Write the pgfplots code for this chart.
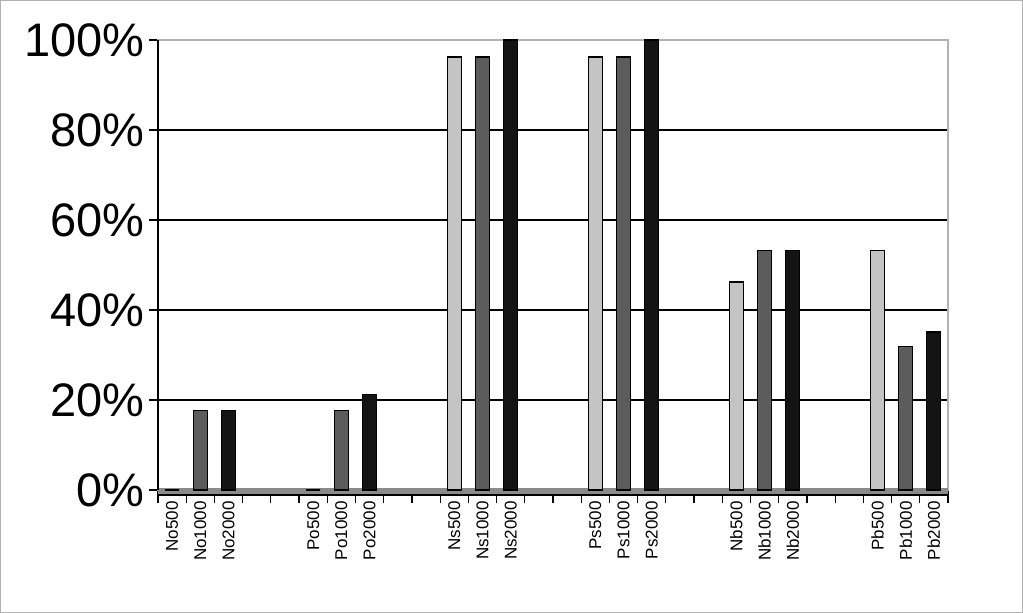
\documentclass[border=0pt]{standalone}
\usepackage{fontspec}
\setmainfont{Liberation Sans}
\usepackage{pgfplots}
\pgfplotsset{compat=1.18}
\definecolor{lightbar}{HTML}{C4C4C4}
\definecolor{midbar}{HTML}{5C5C5C}
\definecolor{darkbar}{HTML}{141414}
\definecolor{floorgray}{HTML}{8A8A8A}
\begin{document}
\begin{tikzpicture}
\path[use as bounding box] (-79pt,-61.5pt) rectangle (432.5pt,245pt);
\draw[gray!60, line width=0.6pt] (-78.7pt,-61.2pt) rectangle (432.2pt,244.7pt);
\begin{axis}[
  at={(0,0)}, anchor=south west,
  scale only axis, width=395pt, height=225pt,
  xmin=-0.5, xmax=27.5, ymin=0, ymax=100,
  ybar, bar width=7pt, bar shift=0pt,
  xtick pos=bottom, ytick pos=left,
  xtick={0,1,2,5,6,7,10,11,12,15,16,17,20,21,22,25,26,27},
  xticklabels={No500,No1000,No2000,Po500,Po1000,Po2000,Ns500,Ns1000,Ns2000,Ps500,Ps1000,Ps2000,Nb500,Nb1000,Nb2000,Pb500,Pb1000,Pb2000},
  x tick label style={rotate=90, anchor=east, font=\fontsize{8.5}{9}\selectfont, inner sep=1pt},
  major x tick style={draw=none},
  minor xtick={-0.5,0.5,...,27.5},
  minor x tick style={black, line width=0.6pt},
  tick align=outside, minor tick length=6.5pt, major tick length=4.5pt,
  ytick={0,20,...,100},
  yticklabel={\pgfmathprintnumber{\tick}\%},
  y tick label style={font=\fontsize{23.5}{24}\selectfont, inner sep=2pt},
  major y tick style={black, line width=0.6pt},
  ymajorgrids, grid style={black, line width=0.8pt},
  axis line style={draw=gray!60, line width=0.6pt},
  /pgf/number format/assume math mode=true,
  clip=false,
]
\fill[floorgray] ([yshift=-2.5pt]rel axis cs:0,0) rectangle ([yshift=1pt]rel axis cs:1,0);
\draw[black, line width=0.6pt] ([yshift=-2.5pt]rel axis cs:0,0) -- ([yshift=-2.5pt]rel axis cs:1,0);
\draw[black, line width=0.6pt] (rel axis cs:0,0) -- (rel axis cs:0,1);
\addplot[fill=lightbar, draw=black, line width=0.6pt] coordinates {(0,0) (5,0) (10,96.2) (15,96.2) (20,46.2) (25,53.3)};
\addplot[fill=midbar, draw=black, line width=0.6pt] coordinates {(1,17.6) (6,17.6) (11,96.2) (16,96.2) (21,53.3) (26,31.8)};
\addplot[fill=darkbar, draw=black, line width=0.6pt] coordinates {(2,17.6) (7,21.2) (12,100) (17,100) (22,53.3) (27,35.1)};
\end{axis}
\end{tikzpicture}
\end{document}
